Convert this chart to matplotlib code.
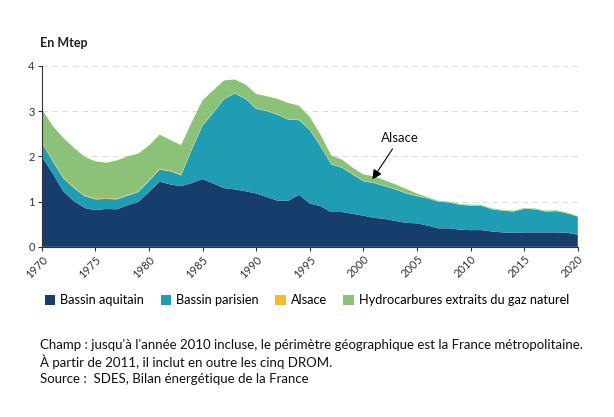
import matplotlib
matplotlib.use('Agg')
import matplotlib.pyplot as plt
from matplotlib.patches import Patch

plt.rcParams['font.family'] = ['Lato', 'DejaVu Sans']

years = list(range(1970, 2021))

aquitain = [2.00, 1.63, 1.23, 1.01, 0.86, 0.81, 0.84, 0.83, 0.92, 0.99,
            1.21, 1.44, 1.38, 1.34, 1.41, 1.50, 1.40, 1.30, 1.27, 1.23,
            1.18, 1.10, 1.02, 1.02, 1.15, 0.96, 0.90, 0.77, 0.77, 0.73,
            0.69, 0.64, 0.62, 0.57, 0.53, 0.52, 0.47, 0.41, 0.41, 0.38,
            0.37, 0.37, 0.34, 0.32, 0.31, 0.32, 0.32, 0.32, 0.32, 0.31,
            0.27]
parisien = [0.31, 0.27, 0.29, 0.29, 0.26, 0.24, 0.22, 0.22, 0.21, 0.22,
            0.24, 0.27, 0.29, 0.24, 0.74, 1.18, 1.56, 1.96, 2.12, 2.04,
            1.87, 1.90, 1.90, 1.79, 1.65, 1.62, 1.32, 1.05, 0.98, 0.87,
            0.76, 0.77, 0.72, 0.70, 0.65, 0.60, 0.60, 0.59, 0.57, 0.55,
            0.54, 0.54, 0.49, 0.48, 0.47, 0.52, 0.51, 0.46, 0.47, 0.43,
            0.40]
alsace = [0.02] * 16 + [0.01] * 35
hydrocarbures = [0.72, 0.76, 0.87, 0.87, 0.85, 0.82, 0.78, 0.84, 0.85, 0.83,
                 0.77, 0.75, 0.67, 0.65, 0.59, 0.54, 0.49, 0.41, 0.30, 0.31,
                 0.32, 0.32, 0.34, 0.36, 0.31, 0.28, 0.25, 0.19, 0.17, 0.14,
                 0.14, 0.14, 0.12, 0.10, 0.09, 0.05, 0.02, 0.01, 0.01, 0.01,
                 0.01, 0.01, 0.01, 0.01, 0.01, 0.01, 0.01, 0.01, 0.01, 0.01,
                 0.00]

labels = ['Bassin aquitain', 'Bassin parisien', 'Alsace',
          'Hydrocarbures extraits du gaz naturel']
colors = ['#173d6c', '#1f9db3', '#fbb92a', '#8cc277']

fig = plt.figure(figsize=(6.14, 4.17), dpi=100)
ax = fig.add_axes([0.068, 0.408, 0.873, 0.434])

ax.stackplot(years, aquitain, parisien, alsace, hydrocarbures,
             colors=colors, linewidth=0)

ax.set_xlim(1970, 2020)
ax.set_ylim(0, 4)
ax.set_xticks(range(1970, 2021, 5))
ax.set_xticklabels([str(y) for y in range(1970, 2021, 5)], rotation=45,
                   ha='right', rotation_mode='anchor', fontsize=8,
                   color='#333333')
ax.set_yticks([0, 1, 2, 3, 4])
ax.set_yticklabels(['0', '1', '2', '3', '4'], fontsize=8, color='#333333')
ax.tick_params(axis='both', length=3, width=0.8, color='#333333', pad=2)
ax.yaxis.grid(True, linestyle=(0, (5, 4)), color='#dddddd', linewidth=0.8)
ax.set_axisbelow(True)
for s in ['top', 'right']:
    ax.spines[s].set_visible(False)
for s in ['left', 'bottom']:
    ax.spines[s].set_color('#333333')
    ax.spines[s].set_linewidth(0.8)

ax.annotate('Alsace', xy=(2000.7, 1.44), xytext=(2003.4, 2.41),
            ha='center', va='center', fontsize=9.5, color='#111111',
            arrowprops=dict(arrowstyle='-|>', color='black', lw=0.8,
                            mutation_scale=14))

fig.text(0.065, 0.897, 'En Mtep', fontsize=9, fontweight='bold',
         color='#222222', ha='left', va='center')

handles = [Patch(facecolor=c, label=l) for c, l in zip(colors, labels)]
fig.legend(handles=handles, loc='center', bbox_to_anchor=(0.5, 0.28),
           ncol=4, frameon=False, fontsize=9.2, handlelength=0.8,
           handleheight=0.8, handletextpad=0.4, columnspacing=1.3)

notes = ["Champ : jusqu'à l'année 2010 incluse, le périmètre géographique est la France métropolitaine.",
         "À partir de 2011, il inclut en outre les cinq DROM.",
         "Source :  SDES, Bilan énergétique de la France"]
for i, line in enumerate(notes):
    fig.text(0.065, 0.172 - i * 0.04, line, fontsize=9.5, color='#111111',
             ha='left', va='center')

fig.savefig('out.png', dpi=100, facecolor='white')
plt.close(fig)
